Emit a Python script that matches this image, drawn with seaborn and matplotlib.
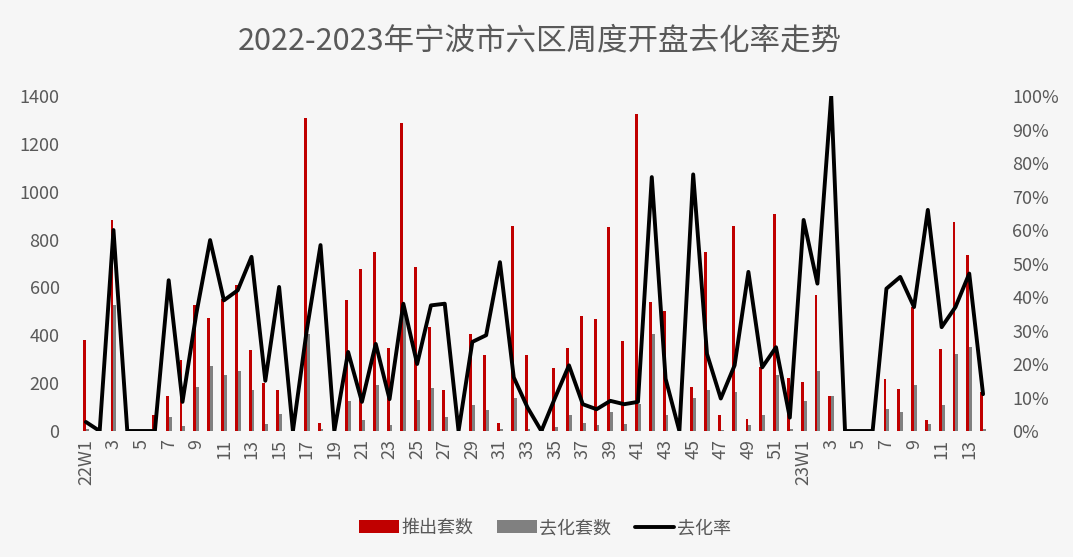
import numpy as np
import pandas as pd
import matplotlib
matplotlib.use("Agg")
import matplotlib.pyplot as plt
from matplotlib.patches import Patch
from matplotlib.lines import Line2D
from matplotlib.ticker import PercentFormatter, MultipleLocator
import seaborn as sns

# ---------------- data ----------------
weeks_2022 = ["22W%d" % w for w in range(1, 53)]
weeks_2023 = ["23W%d" % w for w in range(1, 15)]
weeks = weeks_2022 + weeks_2023
tick_labels = ["22W1"] + [str(w) for w in range(2, 53)] + ["23W1"] + [str(w) for w in range(2, 15)]

supply = [382, 0, 882, 0, 0, 65, 145, 295, 525, 474,
          553, 609, 337, 200, 173, 0, 1309, 33, 0, 546,
          678, 748, 345, 1288, 684, 435, 171, 0, 407, 316,
          33, 855, 316, 0, 265, 348, 479, 467, 852, 375,
          1326, 539, 500, 0, 184, 748, 65, 855, 52, 267,
          905, 221, 205, 567, 145, 0, 0, 0, 219, 177,
          518, 47, 344, 873, 737, 163]
sold = [10, 0, 528, 0, 0, 0, 58, 20, 184, 270,
        233, 251, 173, 28, 72, 0, 407, 10, 0, 125,
        45, 191, 25, 490, 130, 180, 60, 0, 107, 86,
        10, 139, 10, 5, 17, 65, 33, 24, 79, 28,
        114, 407, 68, 0, 139, 170, 6, 163, 24, 65,
        233, 10, 125, 251, 145, 0, 0, 0, 93, 79,
        191, 28, 107, 323, 351, 10]
rate_pct = [2.7, 0, 60, 0, 0, 0, 45, 8.7, 35, 57,
            39, 42, 52, 15, 43, 0, 30, 55.5, 0, 23.6,
            8.7, 26, 9.5, 38, 20, 37.5, 38, 0, 26.6, 28.6,
            50.4, 16, 7, 0, 10, 19.6, 8, 6.5, 9, 8,
            8.7, 75.8, 15.6, 0, 76.6, 23, 9.7, 19.6, 47.5, 19,
            25, 4, 63, 44, 100, 0, 0, 0, 42.5, 46,
            37, 66, 31, 37, 47, 11]

series_names = ["推出套数", "去化套数", "去化率"]
title = "2022-2023年宁波市六区周度开盘去化率走势"

# ---------------- style ----------------
RED = "#C00000"
GRAY = "#808080"
TXT = "#595959"
BG = "#F6F6F6"

sns.set_theme(style="white")
plt.rcParams["font.family"] = ["Noto Sans CJK SC", "DejaVu Sans"]

df = pd.DataFrame({
    "week": weeks * 2,
    "value": supply + sold,
    "series": [series_names[0]] * len(weeks) + [series_names[1]] * len(weeks),
})

fig = plt.figure(figsize=(10.73, 5.57), dpi=100, facecolor=BG)
ax = fig.add_axes([0.0736, 0.2262, 0.849, 0.6014])
ax.set_facecolor(BG)

sns.barplot(data=df, x="week", y="value", hue="series", order=weeks,
            hue_order=series_names[:2], palette=[RED, GRAY], width=0.42,
            dodge=True, saturation=1, linewidth=0, legend=False, ax=ax)

ax2 = ax.twinx()
x_idx = np.arange(len(weeks))
sns.lineplot(x=x_idx, y=np.array(rate_pct) / 100.0, color="black", linewidth=2.8,
             ax=ax2, legend=False)

ax.set_xlim(-0.5, len(weeks) - 0.5)
ax.set_ylim(0, 1400)
ax2.set_ylim(0, 1.0)
ax.yaxis.set_major_locator(MultipleLocator(200))
ax2.yaxis.set_major_locator(MultipleLocator(0.1))
ax2.yaxis.set_major_formatter(PercentFormatter(1.0, decimals=0))

ax.set_xticks(x_idx[::2])
ax.set_xticklabels(tick_labels[::2], rotation=90)

for a in (ax, ax2):
    for s in a.spines.values():
        s.set_visible(False)
    a.set_xlabel("")
    a.set_ylabel("")
    a.tick_params(length=0, colors=TXT, labelsize=13)
ax.tick_params(axis="y", pad=14)
ax2.tick_params(axis="y", pad=16)
ax.tick_params(axis="x", pad=6)

fig.suptitle(title, x=0.503, y=0.955, fontsize=22, color=TXT)

handles = [Patch(facecolor=RED, edgecolor="none"),
           Patch(facecolor=GRAY, edgecolor="none"),
           Line2D([0], [0], color="black", linewidth=2.8)]
fig.legend(handles, series_names, loc="center", bbox_to_anchor=(0.508, 0.052),
           ncol=3, frameon=False, fontsize=13, handlelength=2.2, handleheight=0.7,
           handletextpad=0.15, columnspacing=1.3, labelcolor=TXT)

fig.savefig("out.png", dpi=100, facecolor=BG)
